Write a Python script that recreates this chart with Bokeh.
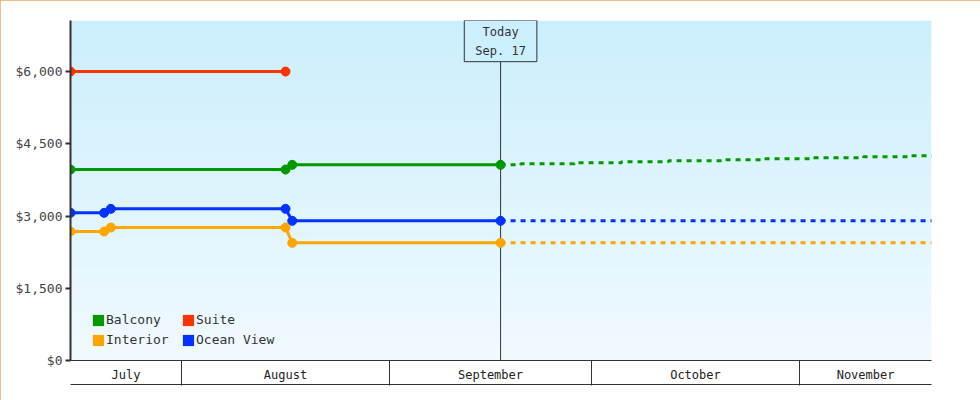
import numpy as np
import pandas as pd
from bokeh.plotting import figure
from bokeh.models import (DatetimeAxis, FixedTicker, NumeralTickFormatter, DatetimeTickFormatter,
                          Legend, LegendItem, Span, Label)
from bokeh.embed import file_html
from bokeh.resources import INLINE

# observed fares (solid lines with markers)
balcony_dates = ["2015-07-15", "2015-08-16", "2015-08-17", "2015-09-17"]
balcony_fares = [3965, 3965, 4063, 4063]
suite_dates = ["2015-07-15", "2015-08-16"]
suite_fares = [6000, 6000]
ocean_dates = ["2015-07-15", "2015-07-20", "2015-07-21", "2015-08-16", "2015-08-17", "2015-09-17"]
ocean_fares = [3066, 3066, 3149, 3149, 2900, 2900]
interior_dates = ["2015-07-15", "2015-07-20", "2015-07-21", "2015-08-16", "2015-08-17", "2015-09-17"]
interior_fares = [2678, 2678, 2761, 2761, 2443, 2443]

# forecast (dotted)
balcony_fc_dates = ["2015-09-17", "2015-09-20", "2015-09-28", "2015-10-05", "2015-10-12",
                    "2015-10-20", "2015-10-26", "2015-11-02", "2015-11-10", "2015-11-17", "2015-11-22"]
balcony_fc_fares = [4063, 4084, 4105, 4126, 4146, 4167, 4188, 4209, 4230, 4250, 4250]
ocean_fc_dates = ["2015-09-17", "2015-11-22"]
ocean_fc_fares = [2900, 2900]
interior_fc_dates = ["2015-09-17", "2015-11-22"]
interior_fc_fares = [2443, 2443]

y_ticks = [0, 1500, 3000, 4500, 6000]
y_top = 7060
today = "2015-09-17"
today_text = "Today\nSep. 17"
view_start = "2015-07-15 12:00"
view_end = "2015-11-20 15:00"
month_starts = ["2015-08-01", "2015-09-01", "2015-10-01", "2015-11-01"]

GREEN, RED, ORANGE, BLUE = "#009900", "#ff3300", "#ffa500", "#0033ff"
FONT = "DejaVu Sans Mono"


def ms(d, noon=True):
    t = pd.Timestamp(d)
    if noon and len(d) == 10:
        t = t + pd.Timedelta(hours=12)
    return t.timestamp() * 1000


def to_ms(dates):
    return [ms(d) for d in dates]


x0, x1 = ms(view_start), ms(view_end)
bounds = [ms(d, noon=False) for d in month_starts]
edges = [x0] + bounds + [x1]
mids = [(a + b) / 2 for a, b in zip(edges[:-1], edges[1:])]

p = figure(width=980, height=400, x_axis_type="datetime", x_axis_location=None,
           x_range=(x0, x1), y_range=(0, y_top),
           output_backend="svg", toolbar_location=None,
           min_border_left=70, min_border_right=49, min_border_top=20, min_border_bottom=40)
p.styles = {"outline": "1px solid #eeaa66", "outline-offset": "-1px"}
p.outline_line_color = None
p.background_fill_color = None
p.border_fill_color = "white"
p.xgrid.visible = False
p.ygrid.visible = False

# gradient background
n = 340
t = np.linspace(0, 1, n)[:, None]
top_c = np.array([203, 239, 252])
bot_c = np.array([241, 250, 255])
img = np.empty((n, 1), dtype=np.uint32)
view = img.view(dtype=np.uint8).reshape((n, 1, 4))
for k in range(3):
    view[:, :, k] = (bot_c[k] + (top_c[k] - bot_c[k]) * t).astype(np.uint8)
view[:, :, 3] = 255
p.image_rgba(image=[img], x=x0, y=0, dw=x1 - x0, dh=y_top, level="image")

p.add_layout(Span(location=ms(today), dimension="height", line_color="#333333",
                  line_width=1, level="underlay"))

# forecasts
for d, f, c in [(balcony_fc_dates, balcony_fc_fares, GREEN),
                (ocean_fc_dates, ocean_fc_fares, BLUE),
                (interior_fc_dates, interior_fc_fares, ORANGE)]:
    p.step(to_ms(d), f, mode="after", line_color=c, line_width=3, line_dash="5 5")

# history
for d, f, c in [(suite_dates, suite_fares, RED),
                (balcony_dates, balcony_fares, GREEN),
                (ocean_dates, ocean_fares, BLUE),
                (interior_dates, interior_fares, ORANGE)]:
    p.line(to_ms(d), f, line_color=c, line_width=3)
    p.scatter(to_ms(d), f, size=9, color=c)

# y axis
ya = p.yaxis[0]
ya.ticker = FixedTicker(ticks=y_ticks)
ya.formatter = NumeralTickFormatter(format="$0,0")
ya.axis_line_color = "#333333"
ya.axis_line_width = 2
ya.major_tick_line_color = "#333333"
ya.major_tick_line_width = 2
ya.major_tick_out = 5
ya.major_tick_in = 0
ya.minor_tick_line_color = None
ya.major_label_standoff = 3
ya.major_label_text_font = FONT
ya.major_label_text_font_size = "13px"
ya.major_label_text_color = "#444444"

# month band axis
fmt = DatetimeTickFormatter(days="%B", months="%B", years="%B", hours="%B", hourmin="%B",
                            minutes="%B", minsec="%B", seconds="%B", milliseconds="%B",
                            microseconds="%B", context=None)
xa = DatetimeAxis(ticker=FixedTicker(ticks=mids, minor_ticks=bounds), formatter=fmt,
                  axis_line_color="#333333", axis_line_width=1,
                  major_tick_line_color=None, major_tick_out=0, major_tick_in=0,
                  minor_tick_line_color="#333333", minor_tick_out=25, minor_tick_in=0,
                  major_label_standoff=-18, major_label_text_font=FONT,
                  major_label_text_font_size="12px", major_label_text_color="#222222")
p.add_layout(xa, "below")
xb = DatetimeAxis(ticker=FixedTicker(ticks=[]), formatter=fmt,
                  axis_line_color="#333333", axis_line_width=1,
                  major_tick_line_color=None, minor_tick_line_color=None,
                  major_tick_out=1, major_tick_in=0, major_label_standoff=0)
p.add_layout(xb, "below")

# legend swatches
nan = [np.nan]
items = []
for name, c in [("Balcony", GREEN), ("Interior", ORANGE), ("Suite", RED), ("Ocean View", BLUE)]:
    r = p.quad(left=nan, right=nan, top=nan, bottom=nan, fill_color=c, line_color=None)
    items.append(LegendItem(label=name, renderers=[r]))
legend = Legend(items=items, location=(21, 13), ncols=2, padding=0, margin=0, spacing=5,
                glyph_width=14, glyph_height=14, label_standoff=1, label_width=70, label_height=15,
                label_text_font=FONT, label_text_font_size="13px", label_text_color="#333333",
                background_fill_alpha=0, border_line_color=None)
p.add_layout(legend, "center")

p.add_layout(Label(x=ms(today), y=y_top, text=today_text, anchor="top_center",
                   text_align="center", text_font=FONT, text_font_size="12px",
                   text_line_height=1.37, text_color="#333333", background_fill_color="#cbeffc",
                   border_line_color="#333333", border_line_width=1, padding=(11, 4)))

open("out.html", "w").write(file_html(p, INLINE))
